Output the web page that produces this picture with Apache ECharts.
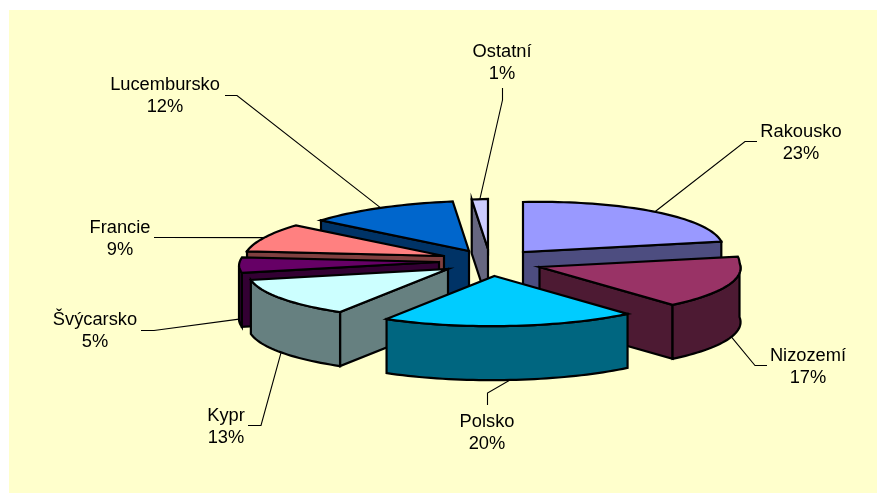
<!DOCTYPE html>
<html>
<head>
<meta charset="utf-8">
<style>
  html, body { margin: 0; padding: 0; background: #fff; }
  #chart { width: 877px; height: 493px; }
</style>
<script src="https://cdn.jsdelivr.net/npm/echarts@6/dist/echarts.min.js"></script>
</head>
<body>
<div id="chart"></div>
<script>
const sliceNames = ['Rakousko', 'Nizozemí', 'Polsko', 'Kypr', 'Švýcarsko', 'Francie', 'Lucembursko', 'Ostatní'];
// Ostatní is printed as 1% but its wedge reads a little wider
const sliceValues = [23, 17, 20, 13, 5, 9, 12, 1.3];

const topColors = ['#9999FF', '#993366', '#00CCFF', '#CCFFFF', '#660066', '#FF8080', '#0066CC', '#CCCCFF'];
const wallColors = ['#4D4D80', '#4D1A33', '#006680', '#668080', '#330033', '#804040', '#003366', '#666680'];

// exploded position of every slice's tip, back-to-front paint rank
const tips = [[523, 252], [539.5, 267], [494.5, 276], [448, 269], [439, 262], [444, 256], [469, 251], [488, 249]];
const paintRank = [4, 6, 7, 5, 3, 2, 1, 0];

// label centres and the elbow of each leader line
const labelCentres = [[801, 143], [808, 367], [487, 433], [226, 427], [95, 331], [120, 239], [165, 96], [502, 63]];
const leaderElbows = [
  [[745, 141.5], [757, 141.5]],
  [[755, 365.5], [767, 365.5]],
  [[487.5, 393], [487.5, 405]],
  [[261, 425.5], [248, 425.5]],
  [[154, 330.5], [141, 330.5]],
  [[165, 237.5], [154, 237.5]],
  [[237, 95.5], [225, 95.5]],
  [[502.5, 100], [502.5, 88]]
];

const radiusX = 200;
const radiusY = 50;
const depth = 54;
const skew = 13.6;
const frontGrow = 7;
const tilt = 4;

const total = sliceValues.reduce((a, b) => a + b, 0);

function rimPoint(tip, angle, drop) {
  const s = Math.sin(angle);
  const c = Math.cos(angle);
  const front = Math.max(0, -c);
  return [
    tip[0] + (radiusX + frontGrow * front) * s + skew * front,
    tip[1] - radiusY * c - tilt * s + drop
  ];
}

function arcPoints(tip, from, to, drop) {
  const pts = [];
  const steps = Math.max(2, Math.ceil(Math.abs(to - from) / 0.03));
  for (let i = 0; i <= steps; i += 1) {
    pts.push(rimPoint(tip, from + (to - from) * i / steps, drop));
  }
  return pts;
}

function face(points, fill, z2) {
  return {
    type: 'polygon',
    z2: z2,
    shape: { points: points },
    style: { fill: fill, stroke: '#000', lineWidth: 2.2, lineJoin: 'miter' }
  };
}

function renderSlice(params, api) {
  const i = params.dataIndex;
  const value = api.value(1);
  const before = sliceValues.slice(0, i).reduce((a, b) => a + b, 0);
  const a0 = before / total * Math.PI * 2;
  const a1 = (before + value) / total * Math.PI * 2;
  const tip = tips[i];
  const z = 10 + paintRank[i] * 10;
  const wall = wallColors[i];
  const children = [];

  // leader line goes under the slices, starts at the middle of the rim
  const mid = (a0 + a1) / 2;
  const anchor = rimPoint(tip, mid, Math.cos(mid) < 0.1 ? depth : 0);
  children.push({
    type: 'polyline',
    z2: 1,
    shape: { points: [anchor].concat(leaderElbows[i]) },
    style: { fill: 'none', stroke: '#000', lineWidth: 1.1 }
  });

  // radial walls facing the viewer
  if (Math.sin(a0) < -0.001) {
    const rim = rimPoint(tip, a0, 0);
    children.push(face([tip, rim, [rim[0], rim[1] + depth], [tip[0], tip[1] + depth]], wall, z));
  }
  if (Math.sin(a1) > 0.001) {
    const rim = rimPoint(tip, a1, 0);
    children.push(face([tip, rim, [rim[0], rim[1] + depth], [tip[0], tip[1] + depth]], wall, z));
  }

  // curved outer wall, only the part in the front half
  const from = Math.max(a0, Math.PI / 2);
  const to = Math.min(a1, Math.PI * 1.5);
  if (to > from) {
    const upper = arcPoints(tip, from, to, 0);
    const lower = arcPoints(tip, to, from, depth);
    children.push(face(upper.concat(lower), wall, z + 1));
  }

  // top surface
  children.push(face([tip].concat(arcPoints(tip, a0, a1, 0)), topColors[i], z + 2));

  // label
  children.push({
    type: 'text',
    z2: 200,
    style: {
      x: labelCentres[i][0],
      y: labelCentres[i][1],
      text: sliceNames[i] + '\n' + Math.round(value) + '%',
      fill: '#000',
      font: '18.3px "Liberation Sans", Arial, sans-serif',
      lineHeight: 22,
      align: 'center',
      verticalAlign: 'middle'
    }
  });

  return { type: 'group', children: children };
}

const chart = echarts.init(document.getElementById('chart'));
chart.setOption({
  animation: false,
  backgroundColor: '#fff',
  graphic: [
    {
      type: 'rect',
      z: 0,
      shape: { x: 9, y: 10, width: 868, height: 483 },
      style: { fill: '#FFFFCC' }
    }
  ],
  series: [
    {
      type: 'custom',
      coordinateSystem: 'none',
      renderItem: renderSlice,
      data: sliceNames.map((name, i) => ({ name: name, value: [i, sliceValues[i]] }))
    }
  ]
});
window.addEventListener('resize', () => chart.resize());
</script>
</body>
</html>
